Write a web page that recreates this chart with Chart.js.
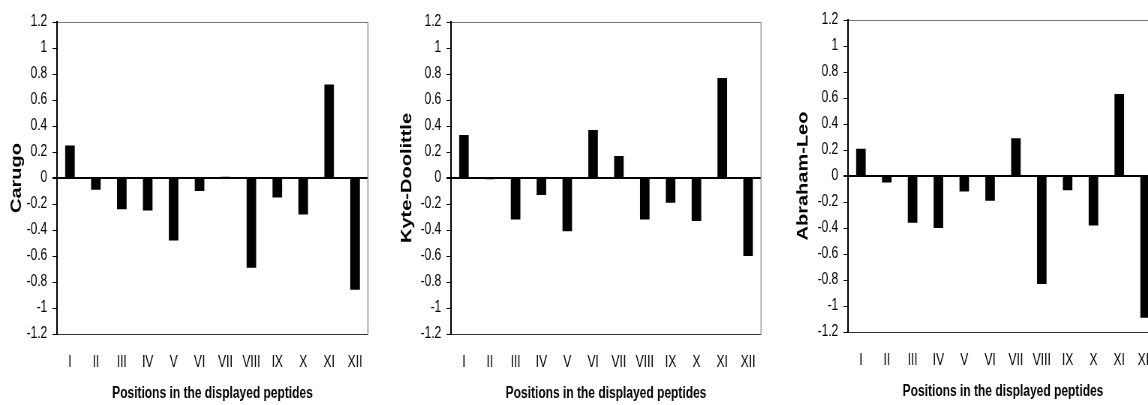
<!DOCTYPE html>
<html>
<head>
<meta charset="utf-8">
<script src="https://cdn.jsdelivr.net/npm/chart.js@4.4.1/dist/chart.umd.min.js"></script>
<style>
  html, body { margin: 0; padding: 0; background: #fff; }
  body { width: 1148px; height: 405px; overflow: hidden; position: relative; }
  /* the source figure is horizontally condensed, so each chart is squeezed a bit */
  canvas { position: absolute; transform-origin: 0 0; transform: scaleX(0.75); }
</style>
</head>
<body>
<canvas id="carugo" width="520" height="405"></canvas>
<canvas id="kyte" width="520" height="405"></canvas>
<canvas id="abraham" width="520" height="405"></canvas>
<script>
// categories and values
const positions = ['I', 'II', 'III', 'IV', 'V', 'VI', 'VII', 'VIII', 'IX', 'X', 'XI', 'XII'];
const carugo = [0.25, -0.09, -0.24, -0.25, -0.48, -0.10, 0.01, -0.69, -0.15, -0.28, 0.72, -0.86];
const kyteDoolittle = [0.33, -0.01, -0.32, -0.13, -0.41, 0.37, 0.17, -0.32, -0.19, -0.33, 0.77, -0.60];
const abrahamLeo = [0.21, -0.05, -0.36, -0.40, -0.12, -0.19, 0.29, -0.83, -0.11, -0.38, 0.63, -1.09];
const yMin = -1.2, yMax = 1.2, yStep = 0.2;
const xTitle = 'Positions in the displayed peptides';

const squeeze = 0.75;
const sans = "'Liberation Sans', Arial, sans-serif";
const tickFont = { family: sans, size: 16 };
const xTitleFont = { family: sans, size: 16, weight: 'bold' };
const yTitleFont = { family: sans, size: 20, weight: 'bold' };

// right edge of the plot box
const framePlugin = {
    id: 'frame',
    afterDraw(chart) {
        const a = chart.chartArea;
        const c = chart.ctx;
        c.save();
        c.strokeStyle = '#8a8a8a';
        c.lineWidth = 1.3;
        c.beginPath();
        c.moveTo(a.right, a.top);
        c.lineTo(a.right, a.bottom);
        c.stroke();
        c.restore();
    }
};

function near(v, t) { return Math.abs(v - t) < 1e-6; }

// o: left = page x of the canvas, axis/right = page x of the plot box, titleX = page x of the y title
function makeChart(id, label, values, o) {
    const el = document.getElementById(id);
    el.style.left = o.left + 'px';
    el.style.top = o.top + 'px';
    const yWidth = (o.axis - o.left) / squeeze;
    const padRight = el.width - (o.right - o.left) / squeeze;
    const titlePad = (o.titleX - o.left) / squeeze - yTitleFont.size * 0.6;

    return new Chart(el.getContext('2d'), {
        type: 'bar',
        data: {
            labels: positions,
            datasets: [{
                label: label,
                data: values,
                backgroundColor: '#000',
                borderWidth: 0,
                barPercentage: 0.37,
                categoryPercentage: 1,
            }],
        },
        options: {
            responsive: false,
            animation: false,
            layout: { padding: { top: 22, right: padRight, left: 0, bottom: 0 } },
            plugins: { legend: { display: false }, tooltip: { enabled: false } },
            scales: {
                x: {
                    grid: { display: false },
                    border: { display: false },
                    ticks: { color: '#000', font: tickFont, padding: 11, maxRotation: 0, autoSkip: false },
                    title: { display: true, text: xTitle, color: '#000', font: xTitleFont, padding: { top: 0, bottom: 2 } },
                    afterFit(scale) { scale.height = 405 - 334; },
                },
                y: {
                    min: yMin,
                    max: yMax,
                    ticks: {
                        stepSize: yStep,
                        color: '#000',
                        font: tickFont,
                        padding: 7,
                        callback: (v) => String(Math.round(v * 10) / 10),
                    },
                    grid: {
                        drawTicks: true,
                        tickLength: 6,
                        tickColor: '#000',
                        lineWidth: (c) => near(c.tick.value, 0) ? 2 : 1,
                        color: (c) => {
                            const v = c.tick.value;
                            if (near(v, 0)) return '#000';
                            if (near(v, yMax)) return '#777';
                            if (near(v, yMin)) return '#333';
                            return 'rgba(0,0,0,0)';
                        },
                    },
                    border: { color: '#000', width: 2 },
                    title: { display: true, text: label, color: '#000', font: yTitleFont, padding: { top: titlePad, bottom: 0 } },
                    afterFit(scale) { scale.width = yWidth; },
                },
            },
        },
        plugins: [framePlugin],
    });
}

makeChart('carugo', 'Carugo', carugo, { left: 0, top: 0, axis: 57, right: 368, titleX: 17 });
makeChart('kyte', 'Kyte-Doolittle', kyteDoolittle, { left: 394, top: 0, axis: 451, right: 761, titleX: 407 });
makeChart('abraham', 'Abraham-Leo', abrahamLeo, { left: 791, top: -2, axis: 848, right: 1158, titleX: 803 });
</script>
</body>
</html>
